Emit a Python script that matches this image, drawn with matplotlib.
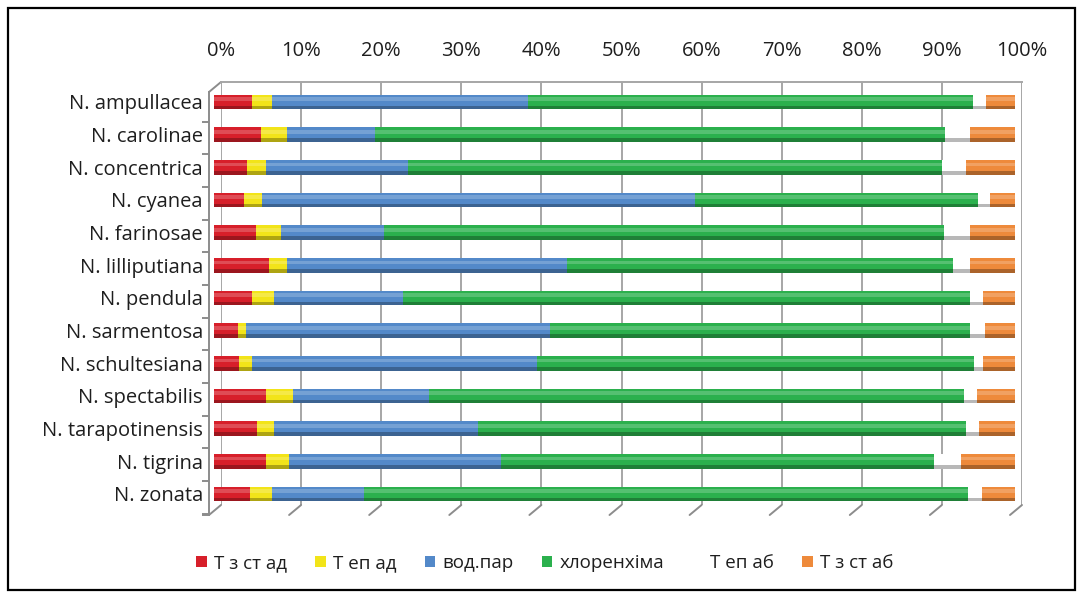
import numpy as np
import matplotlib
matplotlib.use("Agg")
import matplotlib.pyplot as plt
import matplotlib.transforms as mtransforms
from matplotlib.patches import Patch, Rectangle, ConnectionPatch

plt.rcParams['font.family'] = ['Open Sans', 'DejaVu Sans']

species = ["N. ampullacea", "N. carolinae", "N. concentrica", "N. cyanea",
           "N. farinosae", "N. lilliputiana", "N. pendula", "N. sarmentosa",
           "N. schultesiana", "N. spectabilis", "N. tarapotinensis",
           "N. tigrina", "N. zonata"]

# частки тканин, %
t_z_st_ad = [4.8, 5.9, 4.2, 3.8, 5.3, 6.9, 4.8, 3.1, 3.2, 6.5, 5.4, 6.5, 4.5]
t_ep_ad = [2.5, 3.3, 2.3, 2.3, 3.1, 2.3, 2.7, 1.0, 1.6, 3.4, 2.2, 2.9, 2.8]
vod_par = [32.0, 10.9, 17.8, 54.0, 12.9, 34.9, 16.2, 37.9, 35.6, 17.0, 25.4, 26.5, 11.5]
chlorenchyma = [55.5, 71.2, 66.7, 35.3, 69.9, 48.2, 70.8, 52.5, 54.5, 66.8, 61.0, 54.1, 75.4]
t_ep_ab = [1.6, 3.2, 3.0, 1.5, 3.2, 2.2, 1.6, 1.8, 1.2, 1.6, 1.6, 3.3, 1.7]
t_z_st_ab = [3.6, 5.5, 6.0, 3.1, 5.6, 5.5, 3.9, 3.7, 3.9, 4.7, 4.4, 6.7, 4.1]

series_names = ["Т з ст ад", "Т еп ад", "вод.пар", "хлоренхіма", "Т еп аб", "Т з ст аб"]
series_colors = ["#d71f2a", "#f2e419", "#5389c9", "#2bb04d", "#ffffff", "#ee8a3b"]
xticks = list(range(0, 101, 10))

W, H = 1082, 594
fig = plt.figure(figsize=(W / 100, H / 100), dpi=100)
ax = fig.add_axes([221 / W, 1 - 505 / H, 801 / W, 423 / H])
ax.set_xlim(0, 100)
ax.set_ylim(12.34, -0.61)

data = np.array([t_z_st_ad, t_ep_ad, vod_par, chlorenchyma, t_ep_ab, t_z_st_ab])
data = data / data.sum(axis=0) * 100
y = np.arange(len(species))

# бари трохи зсунуті вліво (псевдо-3D)
shift = ax.transData + mtransforms.ScaledTranslation(-0.075, 0, fig.dpi_scale_trans)
front = ax.transData + mtransforms.ScaledTranslation(-0.12, -0.10, fig.dpi_scale_trans)

def mix(c, f):
    c = np.array(matplotlib.colors.to_rgb(c))
    if f > 0:
        return tuple(c + (1 - c) * f)
    return tuple(c * (1 + f))

# сітка на задній стінці
for xv in xticks:
    ax.axvline(xv, color="#a6a6a6", lw=1.4, zorder=1)

left = np.zeros(len(species))
h = 0.45
for vals, col in zip(data, series_colors):
    bars = [ax.barh(y, vals, left=left, height=h, color=col, zorder=3),
            ax.barh(y - 0.085, vals, left=left, height=0.11, color=mix(col, 0.2), zorder=4),
            ax.barh(y + 0.17, vals, left=left, height=0.11, color=mix(col, -0.28), zorder=4)]
    for b in bars:
        for p in b.patches:
            p.set_transform(shift)
            p.set_clip_on(False)
    left += vals

# передня ліва вісь
ax.plot([0, 0], [-0.61, 12.34], color="#8c8c8c", lw=1.4, transform=front, clip_on=False)
ax.plot(np.zeros(13), np.arange(13) + 0.3, ls="none", marker=0, ms=5, mew=1.4,
        color="#8c8c8c", transform=front, clip_on=False)
ax.plot([0], [12.34], ls="none", marker=0, ms=5, mew=1.4, color="#8c8c8c",
        transform=front, clip_on=False)
ax.add_artist(ConnectionPatch((0, -0.61), (0, -0.61), coordsA=front, coordsB=ax.transData,
                              color="#8c8c8c", lw=1.4))
for xv in xticks:
    ax.add_artist(ConnectionPatch((xv, 12.34), (xv, 12.34), coordsA=front, coordsB=ax.transData,
                                  color="#8c8c8c", lw=1.4))

for s in ["left", "right", "bottom"]:
    ax.spines[s].set_visible(False)
ax.spines["top"].set_color("#a6a6a6")
ax.spines["top"].set_linewidth(1.4)

ax.xaxis.tick_top()
ax.set_xticks(xticks)
ax.set_xticklabels([f"{v}%" for v in xticks], fontsize=14.5, color="#1e1e1e")
ax.set_yticks(y)
ax.set_yticklabels(species, fontsize=14.5, color="#1e1e1e")
ax.tick_params(axis="x", length=0, pad=15)
ax.tick_params(axis="y", length=0, pad=13)

handles = [Patch(facecolor=c, edgecolor="none") for c in series_colors]
fig.legend(handles, series_names, ncol=6, loc="center", bbox_to_anchor=(545 / W, 1 - 563 / H),
           frameon=False, fontsize=13.5, handlelength=0.55, handleheight=0.55,
           handletextpad=0.4, columnspacing=1.5, labelcolor="#1e1e1e")

fig.patches.append(Rectangle((8 / W, 1 - 590 / H), 1067 / W, 582 / H, transform=fig.transFigure,
                             fill=False, edgecolor="black", lw=1.6))

fig.savefig("out.png", dpi=100)
